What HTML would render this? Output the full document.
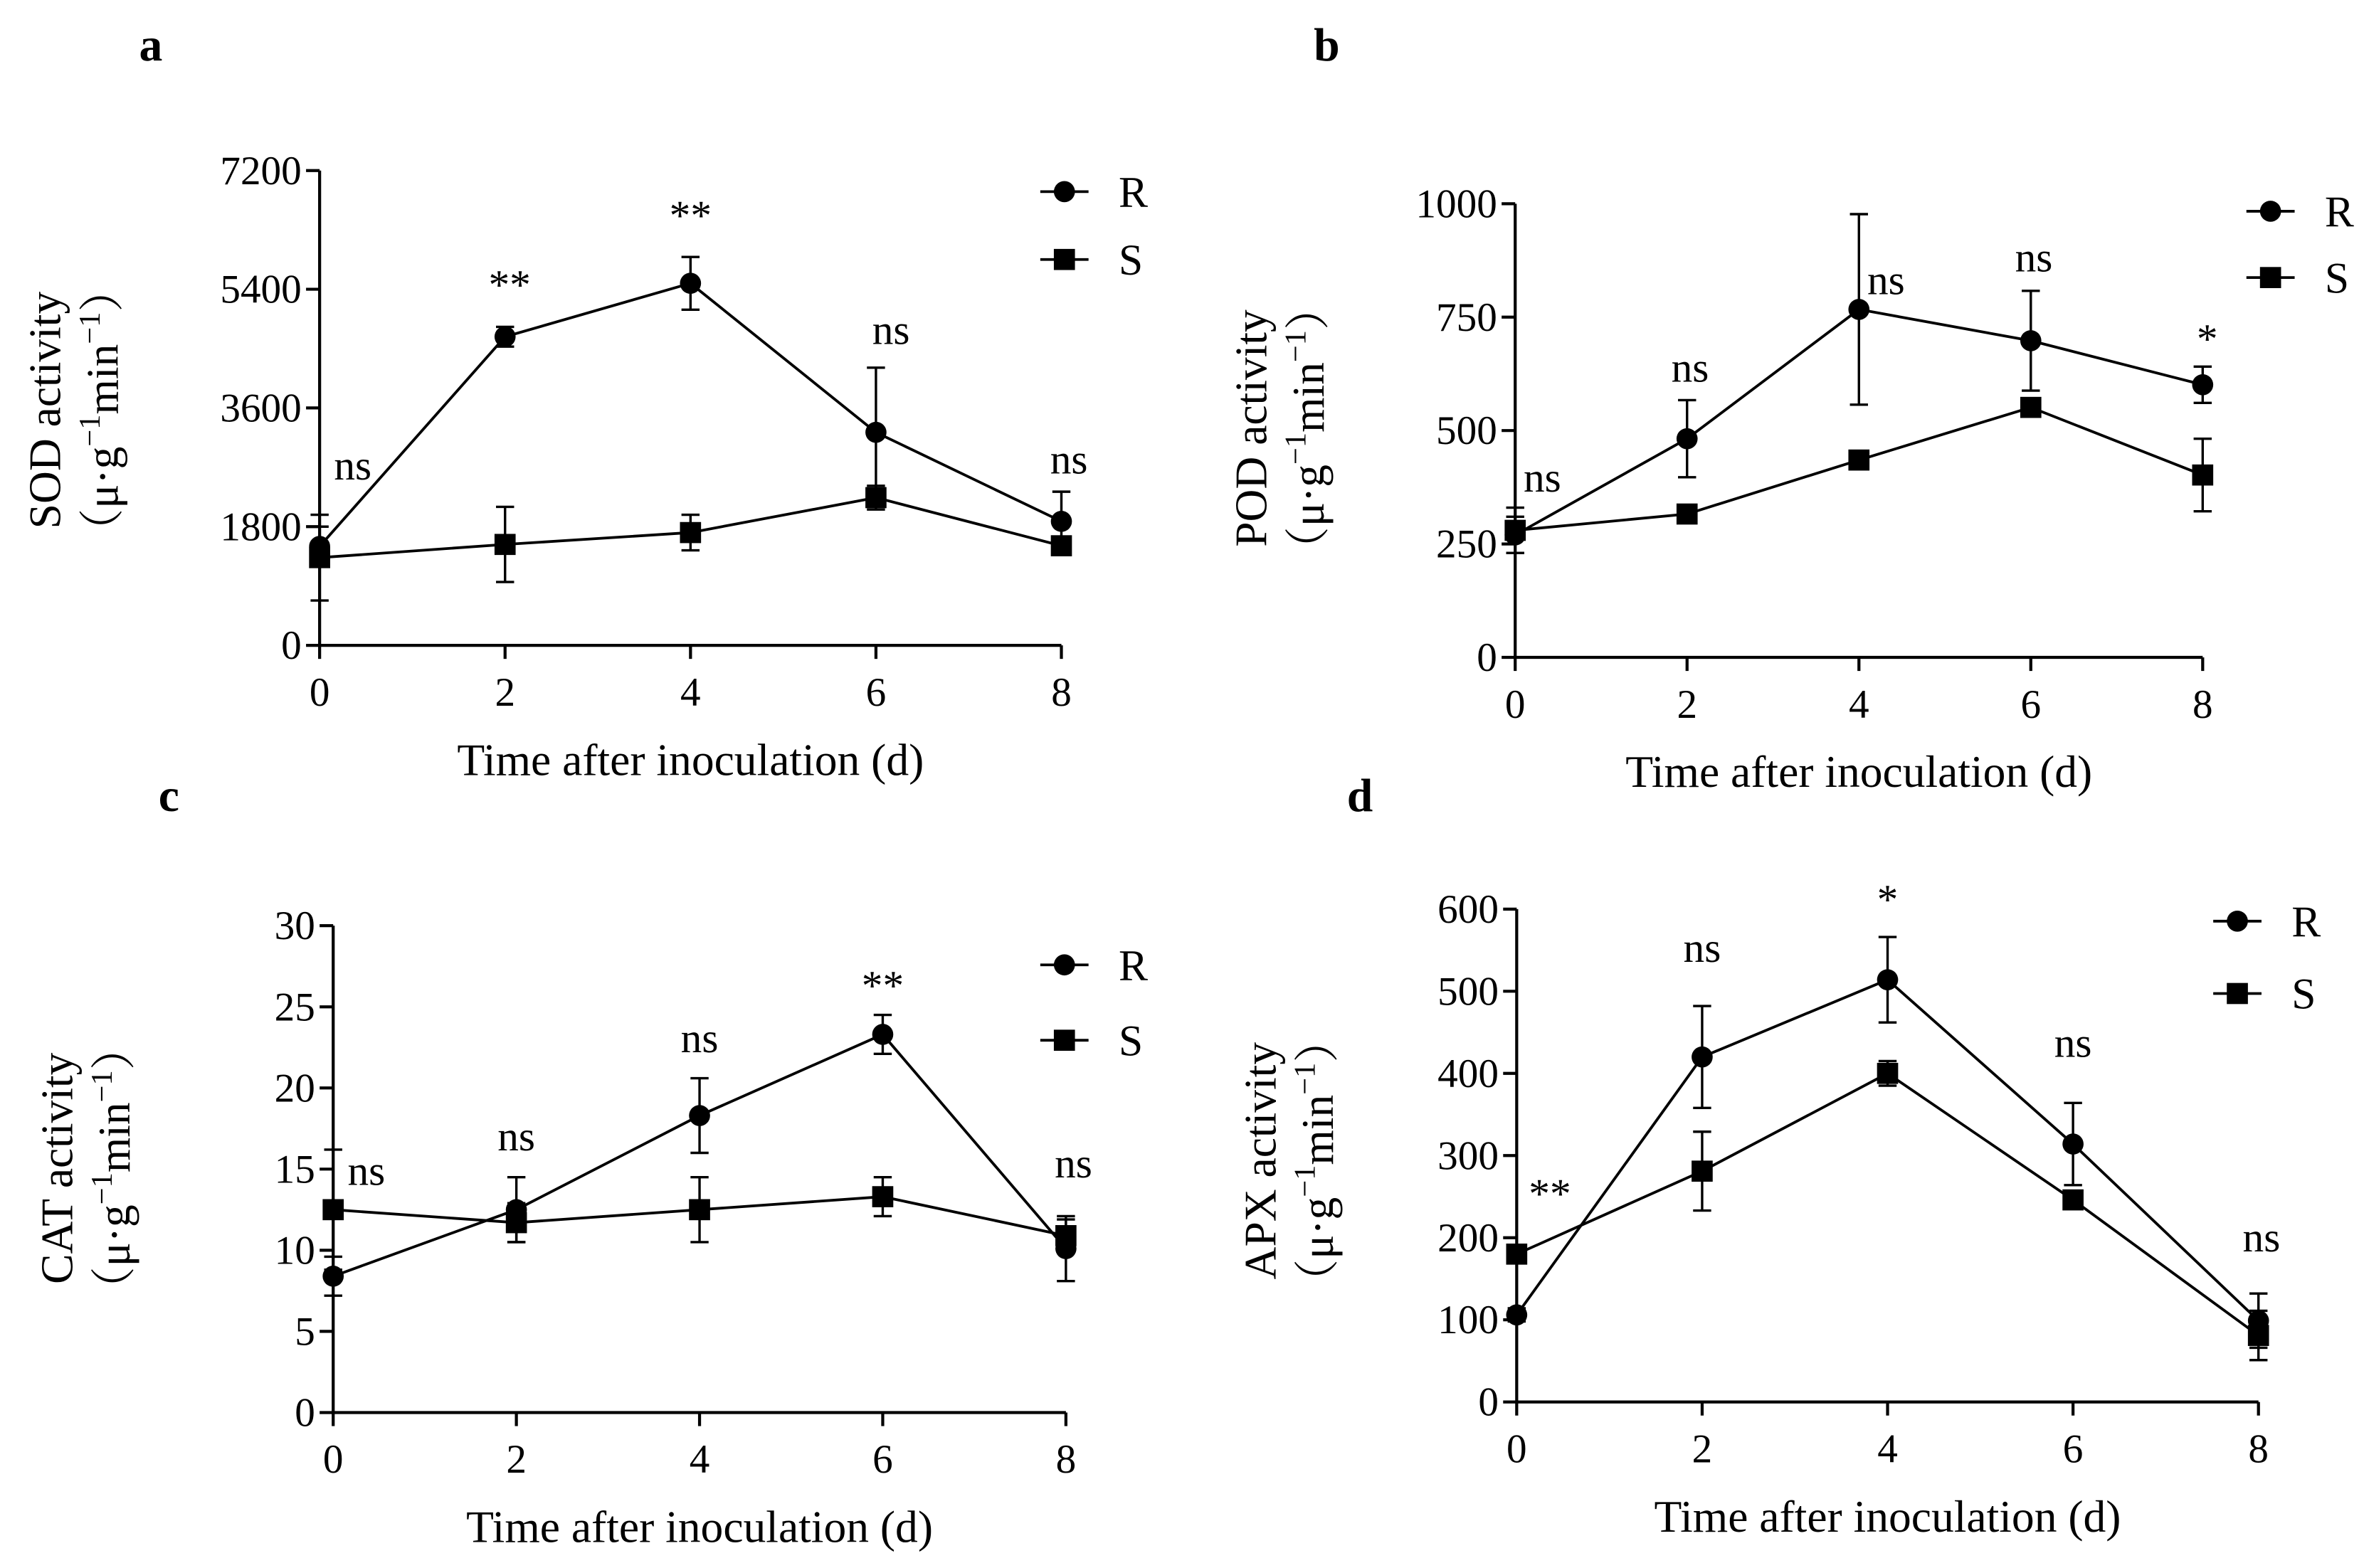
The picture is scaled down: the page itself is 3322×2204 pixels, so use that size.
<!DOCTYPE html>
<html><head><meta charset="utf-8"><style>
html,body{margin:0;padding:0;background:#fff}
svg{display:block}
text{font-family:"Liberation Serif","Noto Serif CJK SC",serif;fill:#000}
</style></head><body>
<svg id="fig" width="3322" height="2204" viewBox="0 0 1568 1040" xmlns="http://www.w3.org/2000/svg"></svg>
<script>
const days = [0, 2, 4, 6, 8];
const xTicks = [0, 2, 4, 6, 8];
// Panel a (SOD)
const sodR = [1500, 4680, 5490, 3230, 1880];
const sodRErr = [300, 150, 400, 980, 450];
const sodS = [1330, 1530, 1710, 2240, 1510];
const sodSErr = [650, 570, 270, 180, 100];
const sodTicks = [0, 1800, 3600, 5400, 7200];
const sodSig = ["ns", "**", "**", "ns", "ns"];
// Panel b (POD)
const podR = [270, 482, 767, 698, 601];
const podRErr = [40, 85, 210, 110, 40];
const podS = [280, 316, 435, 551, 402];
const podSErr = [50, 15, 20, 10, 80];
const podTicks = [0, 250, 500, 750, 1000];
const podSig = ["ns", "ns", "ns", "ns", "*"];
// Panel c (CAT)
const catR = [8.4, 12.5, 18.3, 23.3, 10.1];
const catRErr = [1.2, 2.0, 2.3, 1.2, 2.0];
const catS = [12.5, 11.7, 12.5, 13.3, 10.9];
const catSErr = [3.7, 1.2, 2.0, 1.2, 1.0];
const catTicks = [0, 5, 10, 15, 20, 25, 30];
const catSig = ["ns", "ns", "ns", "**", "ns"];
// Panel d (APX)
const apxR = [106, 420, 514, 314, 99];
const apxRErr = [8, 62, 52, 50, 33];
const apxS = [180, 281, 400, 246, 81];
const apxSErr = [8, 48, 15, 8, 30];
const apxTicks = [0, 100, 200, 300, 400, 500, 600];
const apxSig = ["**", "ns", "*", "ns", "ns"];

const NS = "http://www.w3.org/2000/svg";
const svg = document.getElementById("fig");
function mk(tag, attrs, parent, txt) {
  const e = document.createElementNS(NS, tag);
  for (const k in attrs) e.setAttribute(k, attrs[k]);
  if (txt !== undefined) e.textContent = txt;
  (parent || svg).appendChild(e);
  return e;
}

function panel(p) {
  const g = mk("g", {});
  
  
  const ymax = p.yTicks[p.yTicks.length - 1];
  const X = v => p.x0 + (v - 0) / 8 * (p.x1 - p.x0);
  const Y = v => p.y0 - v / ymax * (p.y0 - p.y1);
  const lt = mk("text", {x: p.lx, y: p.ly, "font-size": 31, "font-weight": "bold", "text-anchor": "middle"}, g, p.id);
  
  
  const ya = mk("line", {x1: p.x0, y1: p.y0, x2: p.x0, y2: p.y1, stroke: "#000", "stroke-width": 2}, g);
  
  
  const xa = mk("line", {x1: p.x0, y1: p.y0, x2: p.x1, y2: p.y0, stroke: "#000", "stroke-width": 2}, g);
  
  
  p.yTicks.forEach(t => {
    mk("line", {x1: p.x0 - 9, y1: Y(t), x2: p.x0, y2: Y(t), stroke: "#000", "stroke-width": 2}, g);
    const tl = mk("text", {x: p.x0 - 12, y: Y(t) + 9, "font-size": 27, "text-anchor": "end"}, g, t);
    
    
  });
  xTicks.forEach(t => {
    mk("line", {x1: X(t), y1: p.y0, x2: X(t), y2: p.y0 + 9, stroke: "#000", "stroke-width": 2}, g);
    const tl = mk("text", {x: X(t), y: p.y0 + 40, "font-size": 27, "text-anchor": "middle"}, g, t);
    
    
  });
  const xt = mk("text", {x: (p.x0 + p.x1) / 2, y: p.y0 + 86, "font-size": 30, "text-anchor": "middle"}, g, "Time after inoculation (d)");
  
  
  const yt = mk("text", {transform: `translate(${p.tx},${p.ty}) rotate(-90)`, "font-size": 30, "text-anchor": "middle"}, g, p.title);
  
  
  const yu = mk("text", {transform: `translate(${p.tx + 38},${p.ty}) rotate(-90)`, "font-size": 30, "text-anchor": "middle"}, g);
  
  
  mk("tspan", {}, yu, "（μ·g");
  mk("tspan", {dy: -12, "font-size": 20}, yu, "−1");
  mk("tspan", {dy: 12}, yu, "min");
  mk("tspan", {dy: -12, "font-size": 20}, yu, "−1");
  mk("tspan", {dy: 12}, yu, "）");
  const series = [[p.r, p.rErr, "circle", "R"], [p.s, p.sErr, "square", "S"]];
  series.forEach(([vals, errs, shape, nm]) => {
    const pts = vals.map((v, i) => X(days[i]) + "," + Y(v)).join(" ");
    const pl = mk("polyline", {points: pts, fill: "none", stroke: "#000", "stroke-width": 1.8}, g);
    
    
    vals.forEach((v, i) => {
      const x = X(days[i]), yh = Y(v + errs[i]), yl = Y(Math.max(0, v - errs[i]));
      const eb = mk("path", {d: `M${x},${yl}V${yh}M${x - 6},${yh}H${x + 6}M${x - 6},${yl}H${x + 6}`, stroke: "#000", "stroke-width": 1.6, fill: "none"}, g);
      
      
      let m;
      if (shape === "circle") m = mk("circle", {cx: x, cy: Y(v), r: 7, fill: "#000"}, g);
      else m = mk("rect", {x: x - 7, y: Y(v) - 7, width: 14, height: 14, fill: "#000"}, g);
      
      
    });
  });
  p.sig.forEach((s, i) => {
    const by = p.sigY[i] + (s === "ns" ? 8 : 16);
    const st = mk("text", {x: X(days[i]) + p.sigDx[i], y: by, "font-size": 28, "text-anchor": "middle"}, g, s);
    
    
  });
  [["R", "circle", p.legY], ["S", "square", p.legY + p.legGap]].forEach(([nm, sh, y]) => {
    const le = mk("g", {}, g);
    
    
    mk("line", {x1: p.legX, y1: y, x2: p.legX + 32, y2: y, stroke: "#000", "stroke-width": 1.8}, le);
    if (sh === "circle") mk("circle", {cx: p.legX + 16, cy: y, r: 7, fill: "#000"}, le);
    else mk("rect", {x: p.legX + 9, y: y - 7, width: 14, height: 14, fill: "#000"}, le);
    mk("text", {x: p.legX + 52, y: y + 10, "font-size": 29}, le, nm);
  });
}

panel({id: "a", lx: 100, ly: 40, x0: 212, x1: 704, y0: 428, y1: 113, yTicks: sodTicks, r: sodR, rErr: sodRErr, s: sodS, sErr: sodSErr, sig: sodSig, sigY: [310, 182, 136, 220, 306], sigDx: [22, 3, 0, 10, 5], title: "SOD activity", tx: 40, ty: 272, legX: 690, legY: 127, legGap: 45});
panel({id: "b", lx: 880, ly: 40, x0: 1005, x1: 1461, y0: 436, y1: 135, yTicks: podTicks, r: podR, rErr: podRErr, s: podS, sErr: podSErr, sig: podSig, sigY: [318, 245, 187, 172, 218], sigDx: [18, 2, 18, 2, 3], title: "POD activity", tx: 840, ty: 284, legX: 1490, legY: 140, legGap: 44});
panel({id: "c", lx: 112, ly: 538, x0: 221, x1: 707, y0: 937, y1: 614, yTicks: catTicks, r: catR, rErr: catRErr, s: catS, sErr: catSErr, sig: catSig, sigY: [778, 755, 690, 647, 773], sigDx: [22, 0, 0, 0, 5], title: "CAT activity", tx: 48, ty: 775, legX: 690, legY: 640, legGap: 50});
panel({id: "d", lx: 902, ly: 538, x0: 1006, x1: 1498, y0: 930, y1: 603, yTicks: apxTicks, r: apxR, rErr: apxRErr, s: apxS, sErr: apxSErr, sig: apxSig, sigY: [785, 630, 590, 693, 822], sigDx: [22, 0, 0, 0, 2], title: "APX activity", tx: 846, ty: 770, legX: 1468, legY: 611, legGap: 48});
</script>
</body></html>
